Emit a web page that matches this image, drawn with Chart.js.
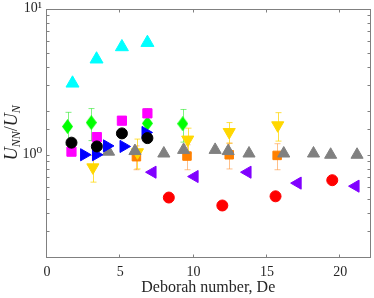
<!DOCTYPE html>
<html><head><meta charset="utf-8">
<script src="https://cdn.jsdelivr.net/npm/chart.js@4/dist/chart.umd.min.js"></script>
<style>html,body{margin:0;padding:0;background:#fff;overflow:hidden}#wrap{width:378px;height:298px}</style>
</head><body><div id="wrap"><canvas id="c"></canvas></div>
<script>
// ---- data ----
const xTickValues = [0, 5, 10, 15, 20];
const yDecadeLabels = {1: '10\u2070', 10: '10\u00b9'};

const cyanDe = [1.74, 3.38, 5.11, 6.85];
const cyanVal = [3.08, 4.50, 5.46, 5.84];

const greenDe = [1.40, 3.02, 6.85, 9.26];
const greenVal = [1.56, 1.66, 1.64, 1.63];
const greenErr = [0.39, 0.41, 0.43, 0.41];

const magentaDe = [1.67, 3.40, 5.11, 6.85];
const magentaVal = [1.05, 1.32, 1.71, 1.92];

const blackDe = [1.67, 3.40, 5.11, 6.85];
const blackVal = [1.21, 1.14, 1.40, 1.30];

const blueDe = [2.53, 3.34, 4.09, 5.22, 6.72];
const blueVal = [1.00, 1.00, 1.15, 1.14, 1.42];

const yellowDe = [3.13, 6.17, 9.60, 12.43, 15.74];
const yellowVal = [0.82, 1.04, 1.27, 1.43, 1.59];
const yellowErr = [0.17, 0.24, 0.25, 0.23, 0.35];

const orangeDe = [6.10, 9.55, 12.43, 15.70];
const orangeVal = [0.97, 0.98, 1.00, 0.99];
const orangeErr = [0.18, 0.19, 0.20, 0.20];

const grayDe = [4.20, 6.00, 7.97, 9.32, 11.47, 12.36, 13.78, 16.15, 18.18, 19.35, 21.15];
const grayVal = [1.05, 1.06, 1.02, 1.08, 1.08, 1.06, 1.02, 1.02, 1.02, 1.00, 1.00];

const purpleDe = [7.20, 10.07, 13.68, 17.10, 21.05];
const purpleVal = [0.76, 0.71, 0.76, 0.64, 0.61];

const redDe = [8.31, 11.96, 15.59, 19.46];
const redVal = [0.51, 0.45, 0.52, 0.67];

// ---- helpers ----
const pts = (xs, ys) => xs.map((x, i) => ({x: x, y: ys[i]}));
const SERIF = "'Liberation Serif', 'DejaVu Serif', serif";
const TXT = '#262626';
const AXC = '#808080';

function diamondImg(w, h, color) {
  const c = document.createElement('canvas');
  c.width = w; c.height = h;
  const g = c.getContext('2d');
  g.fillStyle = color;
  g.beginPath();
  g.moveTo(w / 2, 0); g.lineTo(w, h / 2); g.lineTo(w / 2, h); g.lineTo(0, h / 2);
  g.closePath(); g.fill();
  return c;
}

function ds(label, xs, ys, color, style, radius, rot, order, errs, errColor) {
  return {
    label: label,
    data: pts(xs, ys),
    backgroundColor: color,
    borderColor: color,
    borderWidth: 1,
    pointStyle: style,
    pointRadius: radius,
    pointRotation: rot || 0,
    showLine: false,
    order: order,
    errors: errs || null,
    errorColor: errColor || null
  };
}

const errorBarPlugin = {
  id: 'errbars',
  beforeDatasetsDraw(chart) {
    const ctx = chart.ctx, x = chart.scales.x, y = chart.scales.y;
    chart.data.datasets.forEach(d => {
      if (!d.errors) return;
      ctx.save();
      ctx.strokeStyle = d.errorColor;
      ctx.lineWidth = 1;
      d.data.forEach((p, j) => {
        const e = d.errors[j];
        const px = Math.round(x.getPixelForValue(p.x)) + 0.5;
        const t = y.getPixelForValue(p.y + e);
        const b = y.getPixelForValue(p.y - e);
        ctx.beginPath();
        ctx.moveTo(px, t); ctx.lineTo(px, b);
        ctx.moveTo(px - 3, t); ctx.lineTo(px + 3, t);
        ctx.moveTo(px - 3, b); ctx.lineTo(px + 3, b);
        ctx.stroke();
      });
      ctx.restore();
    });
  }
};

const framePlugin = {
  id: 'frame',
  beforeDatasetsDraw(chart) {
    const ctx = chart.ctx, a = chart.chartArea, x = chart.scales.x, y = chart.scales.y;
    ctx.save();
    ctx.strokeStyle = AXC;
    ctx.lineWidth = 1;
    const L = Math.round(a.left) - 0.5, R = Math.min(Math.round(a.right) + 0.5, 373.5);
    const T = Math.round(a.top) + 0.5, B = Math.round(a.bottom) + 0.5;
    ctx.strokeRect(L, T, R - L, B - T);
    ctx.beginPath();
    xTickValues.forEach(v => {
      const px = Math.round(x.getPixelForValue(v)) - 0.5;
      ctx.moveTo(px, B); ctx.lineTo(px, B - 3);
      ctx.moveTo(px, T); ctx.lineTo(px, T + 3);
    });
    y.ticks.forEach(t => {
      const py = Math.round(y.getPixelForValue(t.value)) + 0.5;
      ctx.moveTo(L, py); ctx.lineTo(L + 3, py);
      ctx.moveTo(R, py); ctx.lineTo(R - 3, py);
    });
    ctx.stroke();
    ctx.restore();
  }
};

const yTitlePlugin = {
  id: 'ytitle',
  afterDraw(chart) {
    const ctx = chart.ctx, a = chart.chartArea;
    const parts = [
      {t: 'U', s: 18, dy: 0},
      {t: 'NN', s: 12, dy: 3},
      {t: '/', s: 18, dy: 0, up: true},
      {t: 'U', s: 18, dy: 0},
      {t: 'N', s: 12, dy: 3}
    ];
    ctx.save();
    ctx.fillStyle = TXT;
    let total = 0;
    parts.forEach(p => {
      ctx.font = (p.up ? '' : 'italic ') + p.s + 'px ' + SERIF;
      p.w = ctx.measureText(p.t).width;
      total += p.w;
    });
    ctx.translate(17, (a.top + a.bottom) / 2);
    ctx.rotate(-Math.PI / 2);
    let cx = -total / 2;
    ctx.textBaseline = 'alphabetic';
    parts.forEach(p => {
      ctx.font = (p.up ? '' : 'italic ') + p.s + 'px ' + SERIF;
      ctx.fillText(p.t, cx, p.dy);
      cx += p.w;
    });
    ctx.restore();
  }
};

const data = {
  datasets: [
    ds('black', blackDe, blackVal, '#000000', 'circle', 5.5, 0, 1),
    ds('blue', blueDe, blueVal, '#0000FF', 'triangle', 7, 90, 2),
    ds('gray', grayDe, grayVal, '#808080', 'triangle', 7, 0, 3),
    ds('yellow', yellowDe, yellowVal, '#FFD700', 'triangle', 7, 180, 4, yellowErr, 'rgba(255,215,0,0.75)'),
    ds('orange', orangeDe, orangeVal, '#FF8000', 'rect', 6, 0, 5, orangeErr, 'rgba(255,140,40,0.55)'),
    ds('magenta', magentaDe, magentaVal, '#FF00FF', 'rect', 6.5, 0, 6),
    ds('green', greenDe, greenVal, '#00FF00', diamondImg(11, 15, '#00FF00'), 7, 0, 7, greenErr, 'rgba(0,230,0,0.5)'),
    ds('cyan', cyanDe, cyanVal, '#00FFFF', 'triangle', 7.5, 0, 8),
    ds('purple', purpleDe, purpleVal, '#8000FF', 'triangle', 7, 270, 9),
    ds('red', redDe, redVal, '#FF0000', 'circle', 5.5, 0, 10)
  ]
};

new Chart(document.getElementById('c'), {
  type: 'scatter',
  data: data,
  options: {
    responsive: true,
    maintainAspectRatio: false,
    animation: false,
    devicePixelRatio: 1,
    layout: {padding: {top: 7, right: 0, left: 0, bottom: 0}},
    plugins: {legend: {display: false}, tooltip: {enabled: false}},
    scales: {
      x: {
        type: 'linear', min: 0, max: 22,
        grid: {display: false, drawTicks: false},
        border: {display: false},
        ticks: {
          stepSize: 5, includeBounds: false, autoSkip: false,
          padding: 7, color: TXT, font: {family: SERIF, size: 14},
          callback: v => (xTickValues.includes(v) ? String(v) : '')
        },
        title: {display: true, text: 'Deborah number, De', color: TXT,
                font: {family: SERIF, size: 16}, padding: {top: 0, bottom: 1}},
        afterFit: s => { s.height = 41; s.paddingLeft = 0; s.paddingRight = 0; }
      },
      y: {
        type: 'logarithmic', min: 0.2, max: 10,
        grid: {display: false, drawTicks: false},
        border: {display: false},
        ticks: {
          autoSkip: false, padding: 5, color: TXT, font: {family: SERIF, size: 14},
          callback: v => {
            const k = Math.round(v * 1000) / 1000;
            return yDecadeLabels[k] || '';
          }
        },
        afterFit: s => { s.width = 47; s.paddingTop = 0; s.paddingBottom = 0; }
      }
    }
  },
  plugins: [framePlugin, errorBarPlugin, yTitlePlugin]
});
</script>
</body></html>
